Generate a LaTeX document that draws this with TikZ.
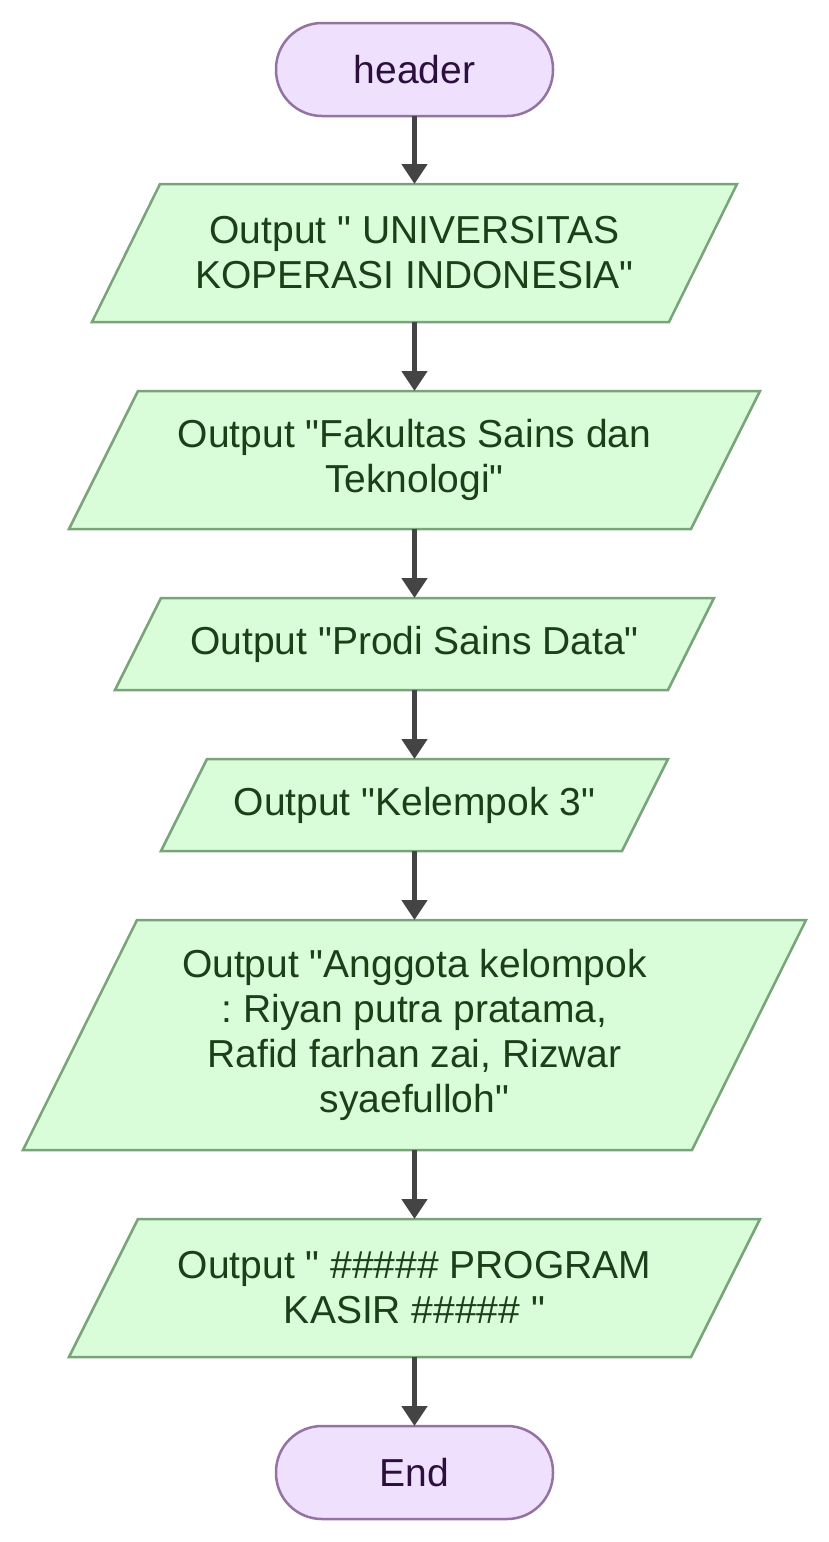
\documentclass[tikz,border=0pt]{standalone}
\usepackage{fontspec}
\setmainfont{Liberation Sans}[Ligatures=TeXOff]
\usetikzlibrary{arrows.meta, backgrounds, calc}
\definecolor{termfill}{HTML}{EFE0FD}
\definecolor{termline}{HTML}{9472A2}
\definecolor{termtext}{HTML}{2C0F3C}
\definecolor{iofill}{HTML}{D8FDD8}
\definecolor{ioline}{HTML}{79A479}
\definecolor{iotext}{HTML}{1B3F16}
\definecolor{arrowgrey}{HTML}{444444}
\frenchspacing

\begin{document}
\begin{tikzpicture}[x=1pt, y=-1pt,
  term/.style={rectangle, rounded corners=46pt, draw=termline, fill=termfill, line width=2.5pt, minimum width=277pt, minimum height=93pt, text=termtext, outer sep=0pt, font=\fontsize{39}{45}\selectfont},
  io/.style={rectangle, inner sep=0pt, outer sep=0pt, align=center, text=iotext, font=\fontsize{39}{45}\selectfont},
  iobox/.style={draw=ioline, fill=iofill, line width=2.5pt, line join=miter},
  link/.style={-{Triangle[length=20pt, width=25pt]}, line width=5pt, draw=arrowgrey}]
\useasboundingbox (0,0) rectangle (829,1542);

% start and end
\node[term] (header) at (414.5,69.5) {header};
\node[term] (end) at (414.5,1472.5) {End};

% output steps
\node[io, minimum width=577pt, minimum height=138pt] (out1) at (414.5,253) {Output " UNIVERSITAS\\KOPERASI INDONESIA"};
\node[io, minimum width=622pt, minimum height=138pt] (out2) at (414.5,460) {Output "Fakultas Sains dan\\Teknologi"};
\node[io, minimum width=553pt, minimum height=92pt] (out3) at (414.5,644) {Output "Prodi Sains Data"};
\node[io, minimum width=461pt, minimum height=92pt] (out4) at (414.5,805) {Output "Kelempok 3"};
\node[io, minimum width=669pt, minimum height=230pt] (out5) at (414.5,1035) {Output "Anggota kelompok\\: Riyan putra pratama,\\Rafid farhan zai, Rizwar\\syaefulloh"};
\node[io, minimum width=622pt, minimum height=138pt] (out6) at (414.5,1288) {Output " \#\#\#\#\# PROGRAM\\KASIR \#\#\#\#\# "};

\begin{scope}[on background layer]
\foreach \n/\s in {out1/34, out2/34.5, out3/23, out4/23, out5/57, out6/34.5}
  \draw[iobox] ($(\n.north west)+(\s,0)$) -- ($(\n.north east)+(\s,0)$) -- ($(\n.south east)-(\s,0)$) -- ($(\n.south west)-(\s,0)$) -- cycle;
\end{scope}

\foreach \a/\b in {header/out1, out1/out2, out2/out3, out3/out4, out4/out5, out5/out6, out6/end}
  \draw[link] (\a) -- (\b);
\end{tikzpicture}
\end{document}
